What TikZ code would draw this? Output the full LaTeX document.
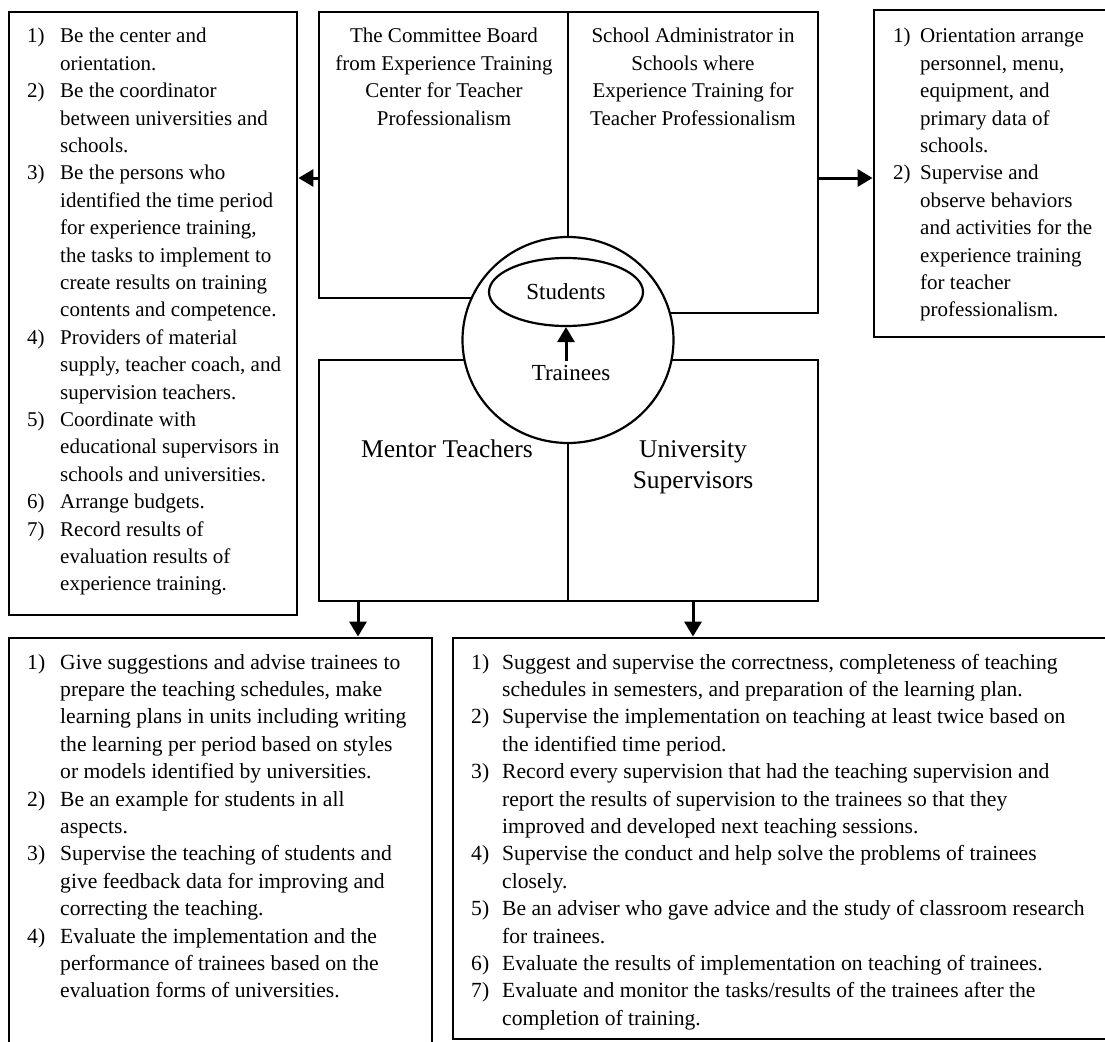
\documentclass[tikz,border=0pt]{standalone}
\usepackage{fontspec}
\setmainfont{Liberation Serif}
\usetikzlibrary{arrows.meta,fit,shapes.geometric}
\newcommand{\lstfont}{\fontsize{21}{27.4}\selectfont}
\newcommand{\lowfont}{\fontsize{21.6}{27.4}\selectfont}
\newcommand{\bigfont}{\fontsize{25.5}{31.7}\selectfont}
\newcommand{\midfont}{\fontsize{23}{27}\selectfont}
\begin{document}
\begin{tikzpicture}[x=1pt,y=-1pt,
  frame/.style={draw, line width=2.8pt, inner sep=0pt},
  part/.style={draw, line width=2.2pt, inner sep=0pt},
  arr/.style={line width=3pt, -{Triangle[length=15pt,width=17pt]}},
  txt/.style={inner sep=0pt, anchor=base west, font=\lstfont},
  lowtxt/.style={inner sep=0pt, anchor=base west, font=\lowfont},
  ttl/.style={inner sep=0pt, anchor=base, font=\lstfont},
  role/.style={inner sep=0pt, anchor=base, font=\bigfont}
]
\useasboundingbox (0,0) rectangle (1105,1041);
\fill[white] (0,0) rectangle (1105,1041);

% outer boxes
\node[frame, fit={(9,12) (297,615)}] (lbox) {};
\node[frame, fit={(874,10) (1112,337)}] (rbox) {};
\node[frame, fit={(9,638) (432,1052)}] (blbox) {};
\node[frame, fit={(453,638) (1112,1039)}] (brbox) {};

% central boxes
\node[part, fit={(319,12) (568,298)}] (topL) {};
\node[part, fit={(568,12) (818,313)}] (topR) {};
\node[part, fit={(319,360) (568,601)}] (botL) {};
\node[part, fit={(568,360) (818,601)}] (botR) {};

% trainee circle
\node[draw, ellipse, line width=2.2pt, fill=white, minimum width=211pt, minimum height=206pt, inner sep=0pt] (circ) at (568,340) {};
\node[draw, ellipse, line width=2.2pt, minimum width=154pt, minimum height=68pt, inner sep=0pt, font=\midfont] (stud) at (566,292) {Students};
\node[anchor=base, font=\midfont] (trn) at (571,380) {Trainees};
\draw[arr] (stud.south |- trn.north) -- (stud.south);

% titles
\node[ttl] (tcb) at (444,43) {\begin{tabular}[t]{@{}c@{}}The Committee Board\\from Experience Training\\Center for Teacher\\Professionalism\end{tabular}};
\node[ttl] (tsa) at (693,43) {\begin{tabular}[t]{@{}c@{}}School Administrator in\\Schools where\\Experience Training for\\Teacher Professionalism\end{tabular}};
\node[role] (mt) at (447,457) {Mentor Teachers};
\node[role] (us) at (693,457) {\begin{tabular}[t]{@{}c@{}}University\\Supervisors\end{tabular}};

% connectors
\coordinate (ya) at (0,178);
\coordinate (xa) at (358,0);
\coordinate (xb) at (693,0);
\draw[arr] (topL.west |- ya) -- (lbox.east |- ya);
\draw[arr] (topR.east |- ya) -- (rbox.west |- ya);
\draw[arr] (botL.south -| xa) -- (blbox.north -| xa);
\draw[arr] (botR.south -| xb) -- (brbox.north -| xb);

% lists
\node[txt] (ltxt) at (27,43) {\begin{tabular}[t]{@{}p{33pt}@{}l@{}}
1)& Be the center and\\
& orientation.\\
2)& Be the coordinator\\
& between universities and\\
& schools.\\
3)& Be the persons who\\
& identified the time period\\
& for experience training,\\
& the tasks to implement to\\
& create results on training\\
& contents and competence.\\
4)& Providers of material\\
& supply, teacher coach, and\\
& supervision teachers.\\
5)& Coordinate with\\
& educational supervisors in\\
& schools and universities.\\
6)& Arrange budgets.\\
7)& Record results of\\
& evaluation results of\\
& experience training.
\end{tabular}};

\node[txt] (rtxt) at (893,43) {\begin{tabular}[t]{@{}p{27pt}@{}l@{}}
1)& Orientation arrange\\
& personnel, menu,\\
& equipment, and\\
& primary data of\\
& schools.\\
2)& Supervise and\\
& observe behaviors\\
& and activities for the\\
& experience training\\
& for teacher\\
& professionalism.
\end{tabular}};

\node[lowtxt] (bltxt) at (27,669) {\begin{tabular}[t]{@{}p{33pt}@{}l@{}}
1)& Give suggestions and advise trainees to\\
& prepare the teaching schedules, make\\
& learning plans in units including writing\\
& the learning per period based on styles\\
& or models identified by universities.\\
2)& Be an example for students in all\\
& aspects.\\
3)& Supervise the teaching of students and\\
& give feedback data for improving and\\
& correcting the teaching.\\
4)& Evaluate the implementation and the\\
& performance of trainees based on the\\
& evaluation forms of universities.
\end{tabular}};

\node[lowtxt] (brtxt) at (471,669) {\begin{tabular}[t]{@{}p{31pt}@{}l@{}}
1)& Suggest and supervise the correctness, completeness of teaching\\
& schedules in semesters, and preparation of the learning plan.\\
2)& Supervise the implementation on teaching at least twice based on\\
& the identified time period.\\
3)& Record every supervision that had the teaching supervision and\\
& report the results of supervision to the trainees so that they\\
& improved and developed next teaching sessions.\\
4)& Supervise the conduct and help solve the problems of trainees\\
& closely.\\
5)& Be an adviser who gave advice and the study of classroom research\\
& for trainees.\\
6)& Evaluate the results of implementation on teaching of trainees.\\
7)& Evaluate and monitor the tasks/results of the trainees after the\\
& completion of training.
\end{tabular}};
\end{tikzpicture}
\end{document}
